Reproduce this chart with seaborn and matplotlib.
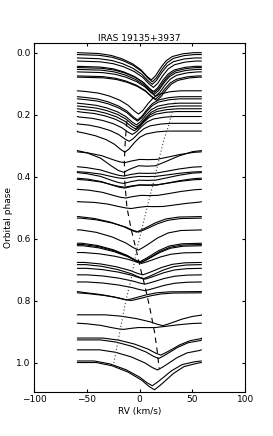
import numpy as np
import pandas as pd
import matplotlib
matplotlib.use("Agg")
import matplotlib.pyplot as plt
import seaborn as sns

# line templates: relative depth vs RV offset (km/s) from the line minimum
core_dv = [-120, -50, -38, -28, -18, -10, -4, 0, 4, 9, 14, 20, 30, 40, 120]
core_depth = [0, 0.03, 0.1, 0.22, 0.4, 0.62, 0.87, 1.0, 0.85, 0.55, 0.3, 0.14, 0.04, 0, 0]

vee_dv = [-120, -55, -40, -25, -12, -5, 0, 5, 10, 18, 28, 40, 120]
vee_depth = [0, 0, 0.12, 0.35, 0.65, 0.88, 1.0, 0.85, 0.68, 0.4, 0.15, 0.03, 0]

dbl_dv = [-120, -50, -35, -22, -12, -5, 0, 6, 14, 22, 30, 40, 52, 65, 120]
dbl_depth = [0, 0, 0.1, 0.35, 0.7, 0.92, 1.0, 0.85, 0.7, 0.72, 0.7, 0.5, 0.25, 0.05, 0]

# one spectrum per orbital phase: line centre (km/s), depth (phase units), template
phase = [0.000, 0.006, 0.017, 0.027, 0.044, 0.048, 0.054, 0.062, 0.075, 0.079,
         0.123, 0.142, 0.149, 0.163, 0.172, 0.181, 0.190, 0.206, 0.228, 0.253,
         0.316, 0.320, 0.368, 0.384, 0.387, 0.405, 0.409, 0.441, 0.481,
         0.529, 0.534, 0.572, 0.615, 0.619, 0.623, 0.645, 0.677, 0.684, 0.696,
         0.717, 0.740, 0.771, 0.775,
         0.846, 0.873, 0.921, 0.927, 0.959, 0.995, 1.000]
centre = [11, 12, 12, 13, 13, 14, 14, 15, 15, 16,
          -1, -2, -2, -3, -3, -4, -5, -7, -10, -14,
          -15, -14, -15, -15, -15, -14, -14, -13, -8,
          -3, -1, -1, 0, 1, 1, 2, 3, 4, 5,
          5, 5, -12, -8,
          22, -15, 20, 18, 17, 12, 14]
depth = [0.088, 0.088, 0.085, 0.085, 0.082, 0.080, 0.080, 0.078, 0.075, 0.075,
         0.075, 0.075, 0.072, 0.070, 0.068, 0.065, 0.062, 0.058, 0.058, 0.068,
         0.070, 0.035, 0.030, 0.022, 0.035, 0.032, 0.025, 0.028, 0.022,
         0.050, 0.045, 0.065, 0.060, 0.058, 0.055, 0.035, 0.040, 0.045, 0.035,
         0.030, 0.028, 0.027, 0.025,
         0.035, 0.020, 0.055, 0.060, 0.065, 0.080, 0.088]
template = ["core"] * 20 + ["dbl"] * 9 + ["vee"] * 14 + ["vee", "dbl"] + ["vee"] * 5

# radial velocity curves drawn over the profiles
dashed_phase = [0.22, 0.28, 0.35, 0.42, 0.50, 0.57, 0.64, 0.70, 0.76, 0.83, 0.90, 0.96, 1.02]
dashed_rv = [-12, -13.5, -14.5, -14, -12, -8, -3, 1, 5.5, 10, 14, 16.5, 18.5]
dotted_phase = [0.15, 0.24, 0.28, 0.335, 0.42, 0.50, 0.57, 0.64, 0.73, 0.80, 0.87, 0.94, 1.013]
dotted_rv = [34, 27, 23, 19, 13, 7, 2, -3, -8, -13, -17, -21, -25]

templates = {"core": (core_dv, core_depth), "vee": (vee_dv, vee_depth), "dbl": (dbl_dv, dbl_depth)}

rows = []
for i, (p, c, d, t) in enumerate(zip(phase, centre, depth, template)):
    dv, rel = templates[t]
    rv = np.clip(np.array(dv) + c, -59, 58.5)
    y = p + d * np.array(rel)
    rows.append(pd.DataFrame({"rv": rv, "y": y, "spec": i}))
df = pd.concat(rows, ignore_index=True)

sns.set_style("ticks", {"xtick.direction": "in", "ytick.direction": "in",
                        "axes.edgecolor": "black", "text.color": "black",
                        "axes.labelcolor": "black", "xtick.color": "black",
                        "ytick.color": "black"})
plt.rcParams["font.family"] = ["DejaVu Sans"]

fig = plt.figure(figsize=(2.73, 4.36), dpi=100)
ax = fig.add_axes([0.1245, 0.101, 0.774, 0.7995])

sns.lineplot(data=df, x="rv", y="y", units="spec", estimator=None, sort=False,
             color="black", lw=0.8, ax=ax, legend=False)
sns.lineplot(x=dashed_rv, y=dashed_phase, sort=False, estimator=None, color="black",
             lw=0.8, linestyle=(0, (5, 4)), ax=ax)
sns.lineplot(x=dotted_rv, y=dotted_phase, sort=False, estimator=None, color="0.25",
             lw=0.8, linestyle=(0, (1, 2)), ax=ax)

ax.set_xlim(-100, 100)
ax.set_ylim(1.095, -0.03)
ax.set_xticks([-100, -50, 0, 50, 100])
ax.set_yticks([0.0, 0.2, 0.4, 0.6, 0.8, 1.0])
ax.set_yticklabels(["0.0", "0.2", "0.4", "0.6", "0.8", "1.0"])
ax.tick_params(top=True, right=True, length=2.5, width=0.8, labelsize=6.5, pad=2.5)
for s in ax.spines.values():
    s.set_linewidth(0.8)
ax.set_title("IRAS 19135+3937", fontsize=6.5, pad=1.5)
ax.set_xlabel("RV (km/s)", fontsize=6.5, labelpad=1.5)
ax.set_ylabel("Orbital phase", fontsize=6.5, labelpad=2)

fig.savefig("out.png", dpi=100)
